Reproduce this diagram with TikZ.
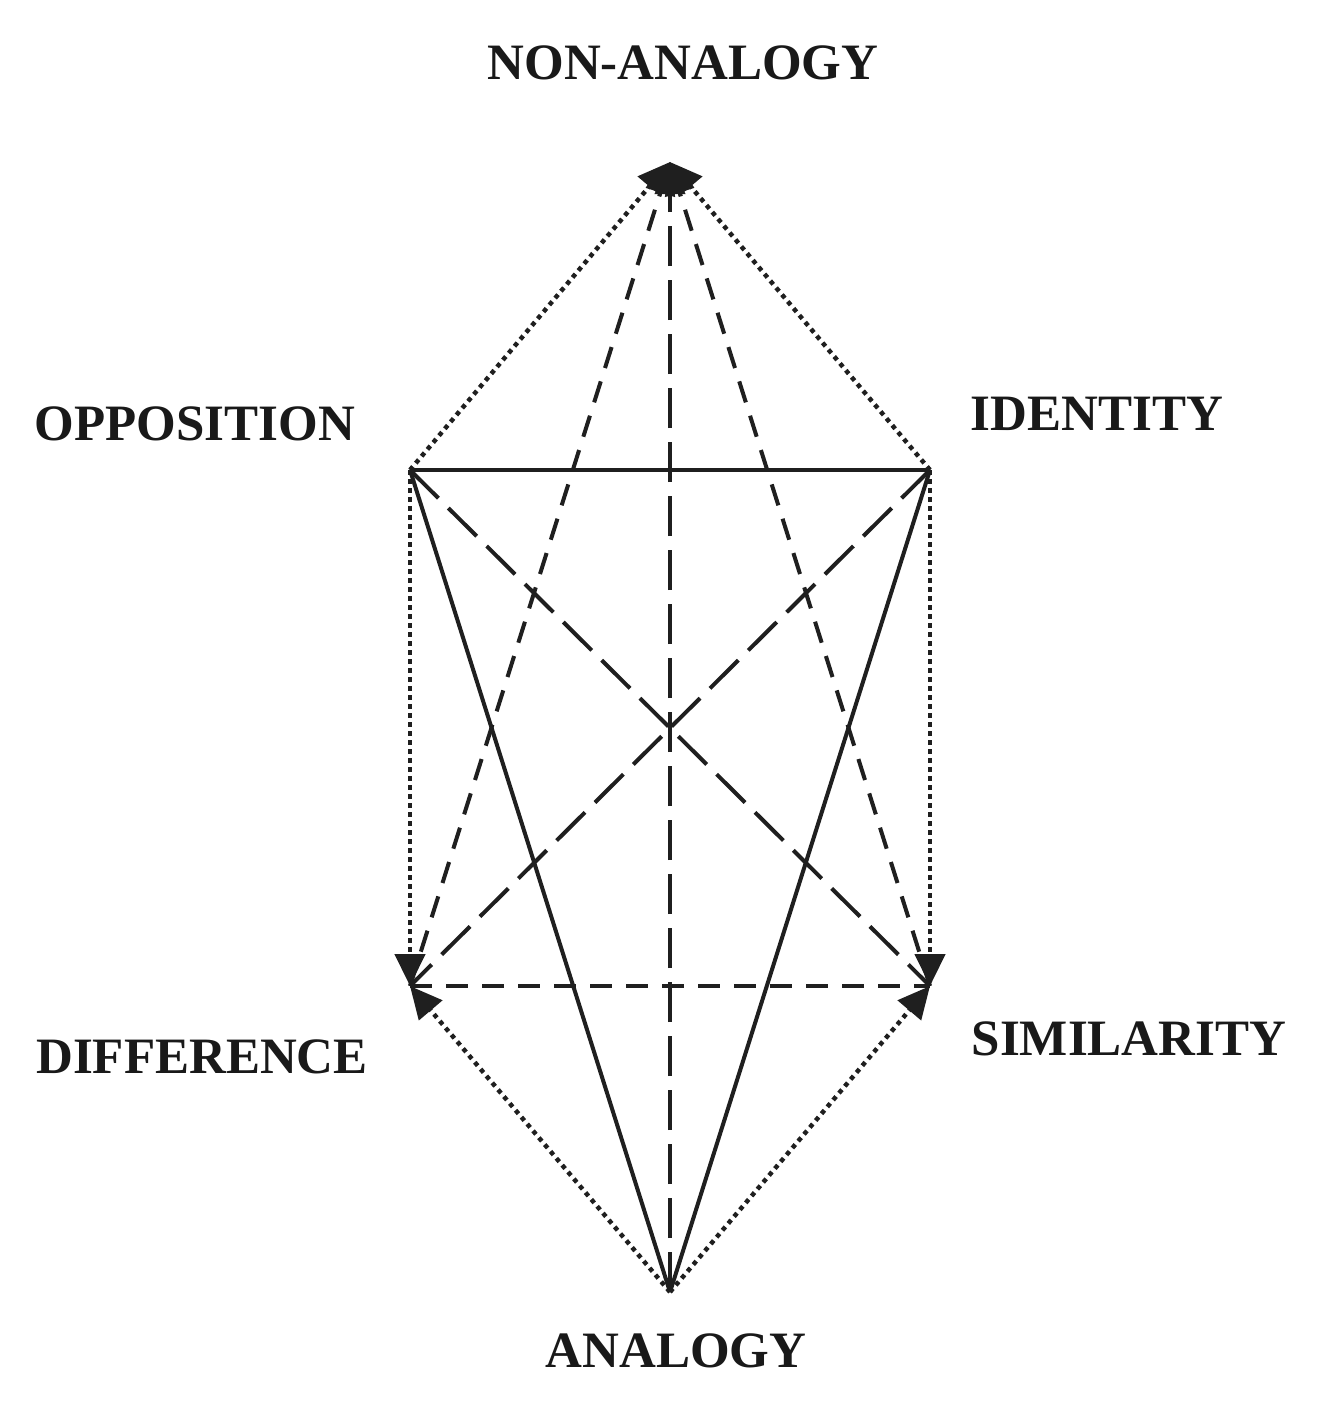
\documentclass[tikz,border=0pt]{standalone}
\usepackage{fontspec}
\setmainfont{Liberation Serif}
\usetikzlibrary{arrows.meta}
\begin{document}
\begin{tikzpicture}[x=1pt,y=-1pt,
  lbl/.style={font=\fontsize{51}{60}\selectfont\bfseries, text=black!90, inner sep=0pt, anchor=base},
  ln/.style={line width=4pt, draw=black!88},
  solidln/.style={ln},
  longdash/.style={ln, dash pattern=on 40pt off 14pt},
  shortdash/.style={ln, dash pattern=on 22pt off 14pt},
  dotln/.style={ln, line width=4.5pt, dash pattern=on 4.5pt off 4.5pt},
  tip/.style={-{Triangle[length=32pt,width=30pt]}}
]
\useasboundingbox (0,0) rectangle (1338,1408);
\coordinate (N) at (670,162);
\coordinate (O) at (410,470);
\coordinate (I) at (930,470);
\coordinate (D) at (410,986);
\coordinate (S) at (930,986);
\coordinate (A) at (670,1292);

% labels
\node[lbl] (tN) at (683,79) {NON-ANALOGY};
\node[lbl] (tO) at (195,440) {OPPOSITION};
\node[lbl] (tI) at (1097,430) {IDENTITY};
\node[lbl] (tD) at (202,1073) {DIFFERENCE};
\node[lbl] (tS) at (1129,1055) {SIMILARITY};
\node[lbl] (tA) at (676,1367) {ANALOGY};

% solid
\draw[solidln] (O) -- (I);
\draw[solidln] (O) -- (A);
\draw[solidln] (I) -- (A);
% long dashed
\draw[longdash] (O) -- (S);
\draw[longdash] (I) -- (D);
\draw[longdash, tip] (A) -- (N);
% short dashed
\draw[shortdash] (D) -- (S);
\draw[shortdash, tip] (D) -- (N);
\draw[shortdash, tip] (S) -- (N);
% dotted
\draw[dotln, tip] (O) -- (N);
\draw[dotln, tip] (I) -- (N);
\draw[dotln, tip] (O) -- (D);
\draw[dotln, tip] (I) -- (S);
\draw[dotln, tip] (A) -- (D);
\draw[dotln, tip] (A) -- (S);
\end{tikzpicture}
\end{document}
